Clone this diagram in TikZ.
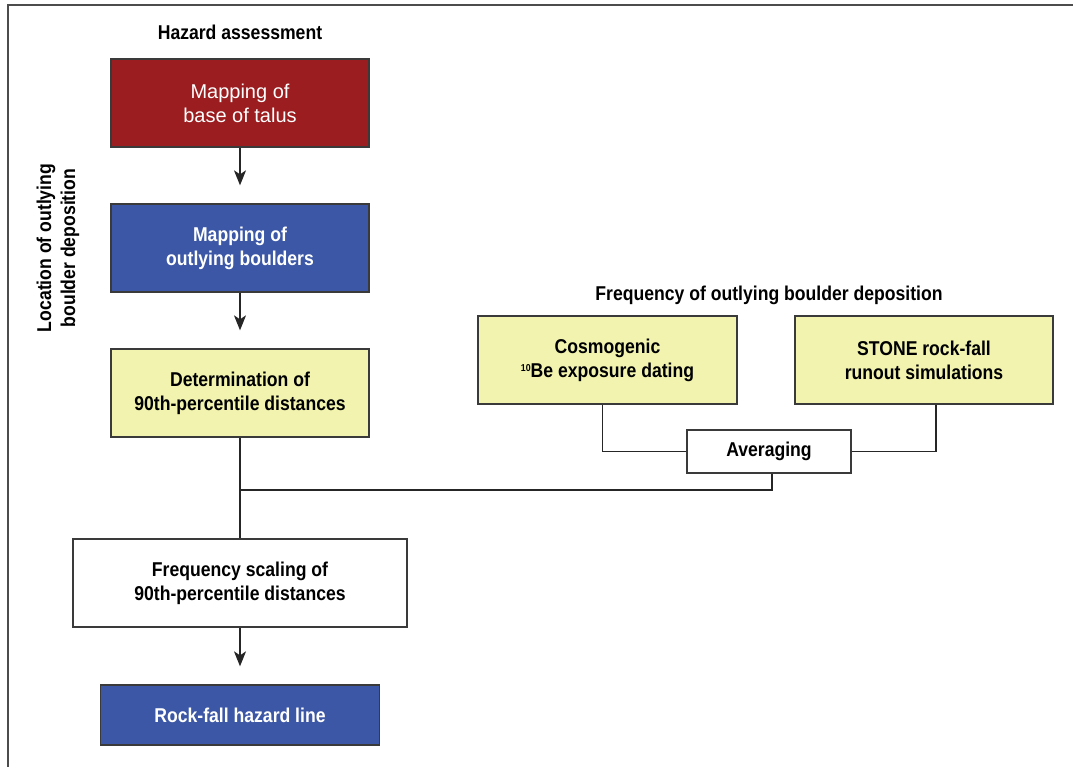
\documentclass[tikz,border=0pt]{standalone}
\usepackage{fontspec}
\setmainfont{Liberation Sans}
\newfontfamily\condsf{Liberation Sans}[FakeStretch=0.88]
\usetikzlibrary{arrows.meta}

\definecolor{talusred}{HTML}{9B1D20}
\definecolor{mapblue}{HTML}{3B57A6}
\definecolor{stepyellow}{HTML}{F1F3AE}
\definecolor{boxline}{HTML}{3A3A3A}

\tikzset{
  box/.style={draw=boxline, line width=1.3pt, inner sep=0pt, align=center,
    minimum width=258pt, minimum height=88pt,
    font=\condsf\bfseries\fontsize{20}{24}\selectfont},
  heading/.style={align=center, font=\condsf\bfseries\fontsize{20}{24}\selectfont},
  link/.style={line width=1.2pt, draw=black!85},
  flow/.style={link, shorten >=18pt, -{Stealth[length=15pt,width=12pt,inset=4pt]}},
}

\begin{document}
\begin{tikzpicture}[x=1pt,y=-1pt]
		%%%%% START %%%%%
		\useasboundingbox (0,0) rectangle (1073,767);
		\draw[line width=2pt, black!70] (8,767) -- (8,5) -- (1073,5);
		
		\node[heading] (hazhead) at (240,32) {Hazard assessment};
		\node[heading] (freqhead) at (769,295) {Frequency of outlying boulder deposition};
		\node[heading, rotate=90] (lochead) at (58,248) {Location of outlying\\boulder deposition};
		
		\node[box, fill=talusred, text=white, font=\fontsize{20}{24}\selectfont] (talus) at (240,103) {Mapping of\\base of talus};
		\node[box, fill=mapblue, text=white] (outlying) at (240,248) {Mapping of\\outlying boulders};
		\node[box, fill=stepyellow] (determ) at (240,393) {Determination of\\90th-percentile distances};
		\node[box, fill=white, minimum width=334pt] (scaling) at (240,583) {Frequency scaling of\\90th-percentile distances};
		\node[box, fill=mapblue, text=white, minimum width=279pt, minimum height=60pt] (hazline) at (240,715) {Rock-fall hazard line};
		
		\node[box, fill=stepyellow, minimum width=259pt] (cosmo) at (607.5,360) {Cosmogenic\\{\fontsize{10}{10}\selectfont\raisebox{6pt}{10}}Be exposure dating};
		\node[box, fill=stepyellow] (stone) at (924,360) {STONE rock-fall\\runout simulations};
		\node[box, fill=white, minimum width=164pt, minimum height=43pt] (avg) at (769,451.5) {Averaging};
		
		\draw[flow] (talus) -- (outlying);
		\draw[flow] (outlying) -- (determ);
		\draw[link] (determ) -- (scaling);
		\draw[flow] (scaling) -- (hazline);
		
		\coordinate (join) at (241,490);
		\draw[link] ([xshift=-5pt]cosmo.south) |- (avg.west);
		\draw[link] ([xshift=12pt]stone.south) |- (avg.east);
		\draw[link] ([xshift=3pt]avg.south) |- (join);
		%%%%% END %%%%%
\end{tikzpicture}
\end{document}
